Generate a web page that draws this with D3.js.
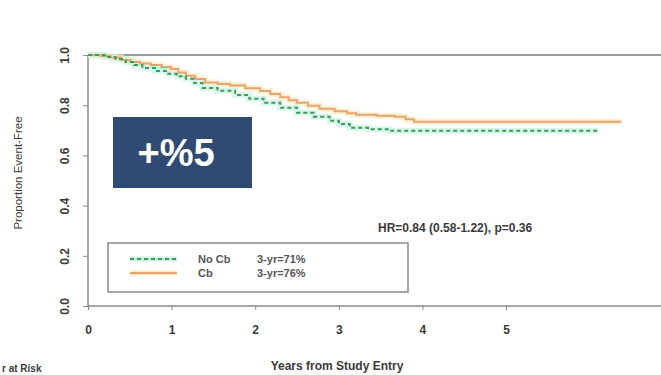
<!DOCTYPE html>
<html><head><meta charset="utf-8">
<script src="https://cdn.jsdelivr.net/npm/d3@7"></script>
<style>body{margin:0;background:#fff}svg{display:block}text{font-family:"Liberation Sans",Arial,sans-serif}</style>
</head><body>
<svg id="c" width="661" height="375"></svg>
<script>
const timesCb  = [0, 0.15, 0.27, 0.40, 0.51, 0.62, 0.75, 0.88, 0.99, 1.08, 1.17, 1.28, 1.40, 1.55, 1.70, 1.88, 2.06, 2.18, 2.30, 2.40, 2.50, 2.63, 2.77, 2.95, 3.10, 3.21, 3.45, 3.67, 3.80, 3.90, 6.38];
const survCb   = [1.0, 0.996, 0.99, 0.98, 0.972, 0.966, 0.96, 0.952, 0.944, 0.93, 0.917, 0.904, 0.89, 0.884, 0.878, 0.868, 0.857, 0.845, 0.832, 0.82, 0.81, 0.798, 0.786, 0.776, 0.768, 0.762, 0.758, 0.754, 0.744, 0.734, 0.734];
const timesNoCb = [0, 0.20, 0.33, 0.45, 0.55, 0.65, 0.80, 0.96, 1.06, 1.17, 1.27, 1.37, 1.55, 1.76, 1.93, 2.10, 2.30, 2.50, 2.70, 2.89, 3.00, 3.13, 3.35, 3.61, 6.10];
const survNoCb  = [1.0, 0.992, 0.984, 0.972, 0.96, 0.948, 0.936, 0.925, 0.915, 0.905, 0.888, 0.869, 0.858, 0.841, 0.826, 0.81, 0.79, 0.77, 0.754, 0.738, 0.725, 0.71, 0.704, 0.698, 0.698];
const xTicks = [0, 1, 2, 3, 4, 5];
const yTicks = [0, 0.2, 0.4, 0.6, 0.8, 1.0];
const legendLabels = ["No Cb", "Cb"];
const legendValues = ["3-yr=71%", "3-yr=76%"];
const hrText = "HR=0.84 (0.58-1.22), p=0.36";
const badgeText = "+%5";
const riskText = "r at Risk";

const svg = d3.select("#c");
const x = d3.scaleLinear().domain([0, 5]).range([88, 506]);
const y = d3.scaleLinear().domain([0, 1]).range([306, 55]);
const axisCol = "#8a8a8a", textCol = "#3a3a3a";

// frame lines
svg.append("line").attr("x1", 88).attr("x2", 661).attr("y1", y(1)).attr("y2", y(1)).attr("stroke", "#9a9a9a").attr("stroke-width", 2);
svg.append("line").attr("x1", 88).attr("x2", 661).attr("y1", y(0)).attr("y2", y(0)).attr("stroke", axisCol).attr("stroke-width", 1.5);
svg.append("line").attr("x1", 88).attr("x2", 88).attr("y1", y(0)).attr("y2", y(1)).attr("stroke", axisCol).attr("stroke-width", 1.5);

// y axis
const yAx = svg.append("g").attr("transform", "translate(88,0)")
  .call(d3.axisLeft(y).tickValues(yTicks).tickSize(5).tickFormat(d3.format(".1f")));
yAx.select(".domain").remove();
yAx.selectAll(".tick line").attr("stroke", axisCol);
yAx.selectAll(".tick text").attr("transform", "rotate(-90)").attr("x", 0).attr("y", -23)
  .attr("dy", "0.35em").attr("text-anchor", "middle").attr("fill", textCol)
  .attr("font-size", 12).attr("font-weight", "bold");

// x axis
const xAx = svg.append("g").attr("transform", `translate(0,${y(0)})`)
  .call(d3.axisBottom(x).tickValues(xTicks).tickSize(4).tickFormat(d3.format("d")));
xAx.select(".domain").remove();
xAx.selectAll(".tick line").attr("stroke", axisCol);
xAx.selectAll(".tick text").attr("y", 19).attr("fill", textCol).attr("font-size", 12).attr("font-weight", "bold");

// titles
svg.append("text").attr("transform", "translate(22,173) rotate(-90)").attr("text-anchor", "middle")
  .attr("font-size", 11.5).attr("fill", textCol).text("Proportion Event-Free");
svg.append("text").attr("x", 337).attr("y", 370).attr("text-anchor", "middle")
  .attr("font-size", 12).attr("font-weight", "bold").attr("fill", textCol).text("Years from Study Entry");
svg.append("text").attr("x", 2).attr("y", 372)
  .attr("font-size", 10).attr("font-weight", "bold").attr("fill", textCol).text(riskText);

// curves
const line = d3.line().x(d => x(d[0])).y(d => y(d[1])).curve(d3.curveStepAfter);
const cb = timesCb.map((t, i) => [t, survCb[i]]);
const nocb = timesNoCb.map((t, i) => [t, survNoCb[i]]);
svg.append("path").attr("d", line(cb)).attr("fill", "none").attr("stroke", "#fde9bf").attr("stroke-width", 6).attr("opacity", 0.7);
svg.append("path").attr("d", line(nocb)).attr("fill", "none").attr("stroke", "#c8f3e4").attr("stroke-width", 6).attr("opacity", 0.7);
svg.append("path").attr("d", line(cb)).attr("fill", "none").attr("stroke", "#e6a470").attr("stroke-width", 2);
svg.append("path").attr("d", line(nocb)).attr("fill", "none").attr("stroke", "#3f9a55").attr("stroke-width", 2).attr("stroke-dasharray", "4,3");

// legend
svg.append("rect").attr("x", 108).attr("y", 243).attr("width", 300).attr("height", 49)
  .attr("fill", "#fff").attr("stroke", "#8a8a8a").attr("stroke-width", 1.5);
const lg = [{c: "#3f9a55", h: "#c8f3e4", dash: "4,3"}, {c: "#e6a470", h: "#fde9bf", dash: null}];
lg.forEach((s, i) => {
  const yy = 259 + i * 14;
  svg.append("line").attr("x1", 130).attr("x2", 177).attr("y1", yy).attr("y2", yy).attr("stroke", s.h).attr("stroke-width", 5);
  const l = svg.append("line").attr("x1", 130).attr("x2", 177).attr("y1", yy).attr("y2", yy).attr("stroke", s.c).attr("stroke-width", 1.8);
  if (s.dash) l.attr("stroke-dasharray", s.dash);
  svg.append("text").attr("x", 198).attr("y", yy + 4).attr("font-size", 11).attr("font-weight", "bold").attr("fill", "#555").text(legendLabels[i]);
  svg.append("text").attr("x", 257).attr("y", yy + 4).attr("font-size", 11).attr("font-weight", "bold").attr("fill", "#555").text(legendValues[i]);
});

// HR text
svg.append("text").attr("x", 378).attr("y", 232).attr("font-size", 12).attr("font-weight", "bold").attr("fill", textCol).text(hrText);

// badge
svg.append("rect").attr("x", 113).attr("y", 117).attr("width", 139).attr("height", 71).attr("fill", "#2f4b73");
svg.append("text").attr("x", 176).attr("y", 166).attr("text-anchor", "middle").attr("font-size", 38)
  .attr("font-weight", "bold").attr("fill", "#fff").text(badgeText);
</script>
</body></html>
